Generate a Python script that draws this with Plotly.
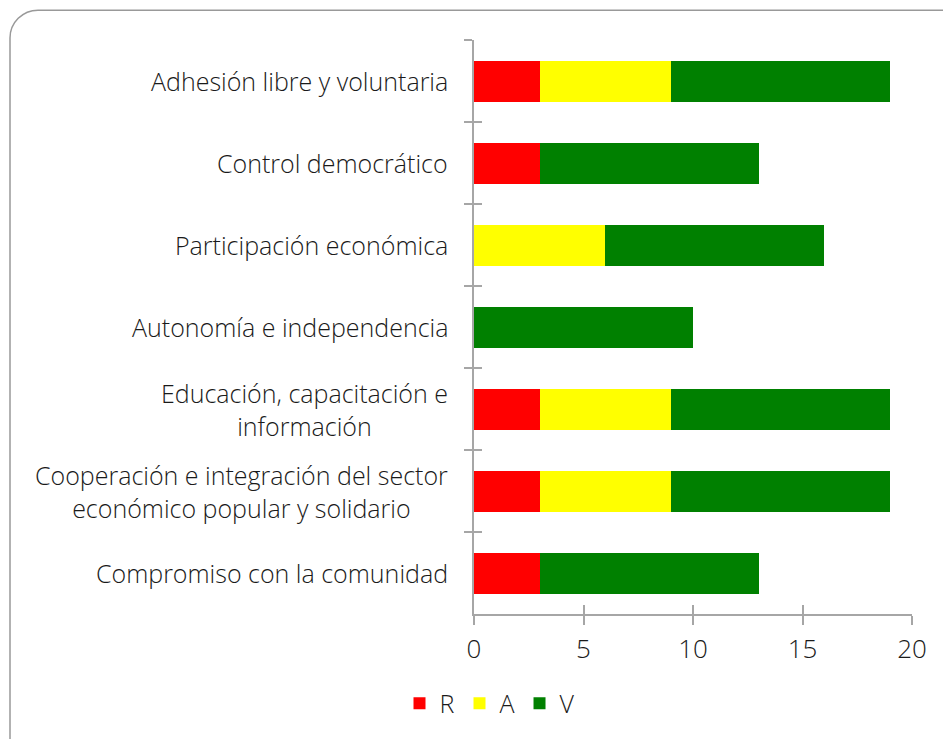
import plotly.graph_objects as go

# Cooperative principles, counted by rating level
categories = [
    "Adhesión libre y voluntaria",
    "Control democrático",
    "Participación económica",
    "Autonomía e independencia",
    "Educación, capacitación e<br>información",
    "Cooperación e integración del sector<br>económico popular y solidario",
    "Compromiso con la comunidad",
]
r_values = [3, 3, 0, 0, 3, 3, 3]
a_values = [6, 0, 6, 0, 6, 6, 0]
v_values = [10, 10, 10, 10, 10, 10, 10]

series = [("R", r_values, "#FF0000"), ("A", a_values, "#FFFF00"), ("V", v_values, "#008000")]
x_ticks = [0, 5, 10, 15, 20]

FAMILY = "'Open Sans', sans-serif"
FONT = dict(family=FAMILY, size=25, color="#1a1a1a", weight=300)
TICK_FONT = dict(family=FAMILY, size=26, color="#1a1a1a", weight=300)
AXIS_GRAY = "#a6a6a6"

W, H = 943, 739
L, R, T, B = 474, 31, 40, 122
pw, ph = W - L - R, H - T - B


def px(x):
    return (x - L) / pw


def py(y):
    return (H - B - y) / ph


fig = go.Figure()
for name, vals, color in series:
    fig.add_trace(go.Bar(
        y=categories, x=vals, name=name, orientation="h",
        marker=dict(color=color, line=dict(width=0)),
    ))

yax_common = dict(
    type="category", categoryorder="array", categoryarray=categories,
    range=[len(categories) - 0.5, -0.5], tickson="boundaries",
    showgrid=False, zeroline=False, ticklen=8, tickwidth=1.5, tickcolor=AXIS_GRAY,
)
xax_common = dict(
    range=[0, 20], tickvals=x_ticks, showgrid=False, zeroline=False,
    ticklen=9, tickwidth=1.5, tickcolor=AXIS_GRAY,
)

fig.update_layout(
    width=W, height=H,
    margin=dict(l=L, r=R, t=T, b=B),
    paper_bgcolor="white", plot_bgcolor="white",
    barmode="stack", bargap=0.5,
    font=FONT,
    showlegend=True,
    legend=dict(orientation="h", x=px(490), xanchor="center", y=py(707), yanchor="middle",
                font=FONT, itemwidth=30, traceorder="normal"),
    xaxis=dict(**xax_common, ticks="outside", showline=True, linecolor=AXIS_GRAY, linewidth=1.5,
               tickfont=TICK_FONT, ticklabelstandoff=2),
    xaxis2=dict(**xax_common, ticks="inside", overlaying="x", showticklabels=False, showline=False),
    yaxis=dict(**yax_common, ticks="outside", showline=True, linecolor=AXIS_GRAY, linewidth=1.5,
               showticklabels=False),
    yaxis2=dict(**yax_common, ticks="inside", overlaying="y", showticklabels=False, showline=False),
)

# Invisible helper trace so the overlay axes get drawn
fig.add_trace(go.Scatter(y=categories, x=[0] * len(categories), xaxis="x2", yaxis="y2",
                         mode="markers", marker=dict(opacity=0), showlegend=False,
                         hoverinfo="skip"))

# Category labels, centred line by line and right-aligned to the axis
for cat in categories:
    fig.add_annotation(
        x=0, xref="paper", y=cat, yref="y", text=cat, showarrow=False,
        xanchor="right", yanchor="middle", align="center", xshift=-24, font=FONT,
    )

# Rounded frame around the chart
rad = 28
k = 0.552 * rad
x0, y0 = 10, 10
path = (
    f"M {px(x0)},{py(H + 30)} L {px(x0)},{py(y0 + rad)} "
    f"C {px(x0)},{py(y0 + rad - k)} {px(x0 + rad - k)},{py(y0)} {px(x0 + rad)},{py(y0)} "
    f"L {px(W + 30)},{py(y0)}"
)
fig.add_shape(type="path", path=path, xref="paper", yref="paper",
              line=dict(color="#999999", width=1.5), layer="below")

fig.write_html("out.html")
